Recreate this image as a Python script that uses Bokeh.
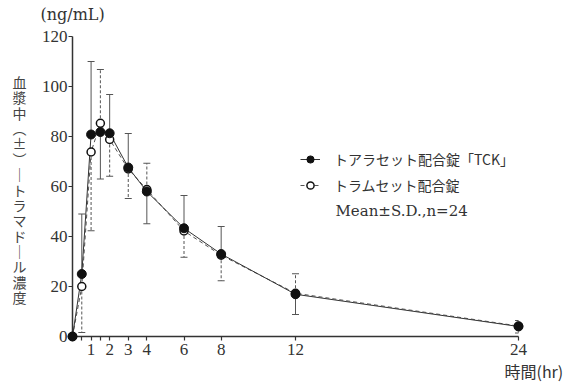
from bokeh.plotting import figure
from bokeh.models import (ColumnDataSource, Range1d, FixedTicker, Legend, LegendItem, Label)
from bokeh.core.properties import value
from bokeh.embed import file_html
from bokeh.resources import INLINE

# ---- data ----
time = [0, 0.5, 1, 1.5, 2, 3, 4, 6, 8, 12, 24]
tck_mean = [0, 25.0, 80.8, 81.8, 81.3, 67.6, 58.0, 43.3, 33.0, 16.9, 4.0]
tck_sd = [0, 24.0, 29.2, 18.8, 15.5, 13.6, 12.9, 13.1, 11.0, 8.1, 2.6]
tck_dir = [0, 1, 1, -1, 1, 1, -1, 1, 1, -1, -1]
tram_mean = [0, 20.0, 73.8, 85.3, 78.8, 67.0, 58.8, 42.2, 32.5, 17.3, 4.2]
tram_sd = [0, 18.4, 31.5, 21.5, 14.7, 11.8, 10.5, 10.5, 10.2, 7.8, 2.2]
tram_dir = [0, -1, -1, 1, -1, -1, 1, -1, -1, 1, 1]

x_ticks = [0.5, 1, 1.5, 2, 3, 4, 6, 8, 12, 24]
x_tick_labels = {0.5: "", 1: "1", 1.5: "", 2: "2", 3: "3", 4: "4", 6: "6", 8: "8", 12: "12", 24: "24"}
y_ticks = [0, 20, 40, 60, 80, 100, 120]

name_tck = "トアラセット配合錠「TCK」"
name_tram = "トラムセット配合錠"
note = "Mean±S.D.,n=24"
y_title_chars = ["血", "漿", "中", "︵", "±", "︶", "｜", "ト", "ラ", "マ", "ド", "｜", "ル", "濃", "度"]
unit_text = "(ng/mL)"
x_title = "時間(hr)"

AX = "#333333"
SERIF = "Liberation Serif"
SERIF2 = "DejaVu Serif"
CJK = "Noto Sans CJK JP"

# frame geometry (pixels) used to place the texts outside the frame
FRAME_LEFT, FRAME_BOTTOM, PX_PER_HR, PX_PER_UNIT = 72, 336, 446 / 24, 2.5


def to_x(px):
    return (px - FRAME_LEFT) / PX_PER_HR


def to_y(py):
    return (FRAME_BOTTOM - py) / PX_PER_UNIT


p = figure(width=573, height=387, output_backend="svg", toolbar_location=None,
           x_range=Range1d(0, 24), y_range=Range1d(0, 120),
           min_border_left=72, min_border_right=55, min_border_top=36, min_border_bottom=51)
p.outline_line_color = None
p.grid.visible = False
p.background_fill_color = "white"
p.border_fill_color = "white"

for ax in (p.xaxis[0], p.yaxis[0]):
    ax.axis_line_color = AX
    ax.axis_line_width = 1.5
    ax.major_tick_line_color = AX
    ax.major_tick_line_width = 1.2
    ax.major_tick_out = 4
    ax.major_tick_in = 0
    ax.minor_tick_line_color = None
    ax.major_label_text_font = SERIF
    ax.major_label_text_font_size = "17px"
    ax.major_label_text_color = AX

p.xaxis.major_label_standoff = 3
p.yaxis.major_label_standoff = 1
p.xaxis.ticker = FixedTicker(ticks=x_ticks)
p.xaxis.major_label_overrides = x_tick_labels
p.yaxis.ticker = FixedTicker(ticks=y_ticks)


def err_source(mean, sd, direction):
    xs, y0, y1 = [], [], []
    for t, m, s, d in zip(time, mean, sd, direction):
        if d != 0:
            xs.append(t)
            y0.append(m)
            y1.append(m + d * s)
    return ColumnDataSource(dict(x=xs, y0=y0, y1=y1))


e1 = err_source(tck_mean, tck_sd, tck_dir)
e2 = err_source(tram_mean, tram_sd, tram_dir)
p.segment(x0="x", y0="y0", x1="x", y1="y1", source=e1, line_color="#555555", line_width=1)
p.scatter(x="x", y="y1", source=e1, marker="dash", size=7, line_color="#555555", line_width=1)
p.segment(x0="x", y0="y0", x1="x", y1="y1", source=e2, line_color="#555555", line_width=1, line_dash="3 2")
p.scatter(x="x", y="y1", source=e2, marker="dash", size=7, line_color="#555555", line_width=1)

src2 = ColumnDataSource(dict(x=time, y=tram_mean))
src1 = ColumnDataSource(dict(x=time, y=tck_mean))
l2 = p.line(x="x", y="y", source=src2, line_color="#555555", line_width=1, line_dash="4 3")
l1 = p.line(x="x", y="y", source=src1, line_color="#333333", line_width=1)
m2 = p.scatter(x="x", y="y", source=src2, marker="circle", size=8, fill_color="white",
               line_color="#111111", line_width=1.5, level="overlay")
m1 = p.scatter(x="x", y="y", source=src1, marker="circle", size=9, fill_color="#111111",
               line_color="#111111", line_width=1, level="overlay")

legend = Legend(items=[LegendItem(label=name_tck, renderers=[l1, m1]),
                       LegendItem(label=name_tram, renderers=[l2, m2])],
                location=(228, 141), orientation="vertical",
                label_text_font=CJK, label_text_font_size="14px", label_text_color=AX,
                glyph_width=20, glyph_height=18, label_height=18, spacing=6,
                label_standoff=14, padding=0, margin=0,
                border_line_color=None, background_fill_alpha=0)
p.add_layout(legend)

p.add_layout(Label(x=to_x(335), y=to_y(210), text=note, text_font=SERIF2, text_font_size="15px",
                   text_color=AX, text_baseline="middle", text_align="left"))

# texts outside the plotting frame (drawn unclipped at overlay level)
p.text(x=[to_x(40)], y=[to_y(14)], text=[unit_text], text_font=value(SERIF2), text_font_size="16px",
       text_color=AX, text_baseline="middle", text_align="left", level="overlay")
p.text(x=[to_x(504)], y=[to_y(370)], text=[x_title], text_font=value(CJK), text_font_size="16px",
       text_color=AX, text_baseline="middle", text_align="left", level="overlay")
n = len(y_title_chars)
p.text(x=[to_x(19)] * n, y=[to_y(81.5 + i * 15.36) for i in range(n)], text=y_title_chars,
       text_font=value(CJK), text_font_size="14px", text_color="#444444",
       text_baseline="middle", text_align="center", level="overlay")

open("out.html", "w").write(file_html(p, INLINE))
